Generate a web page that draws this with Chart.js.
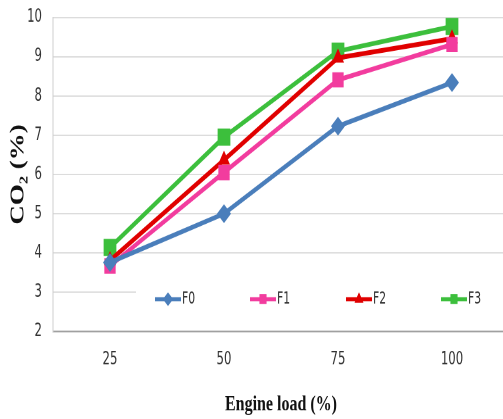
<!DOCTYPE html>
<html>
<head>
<meta charset="utf-8">
<script src="https://cdn.jsdelivr.net/npm/chart.js@4.4.0/dist/chart.umd.min.js"></script>
<style>
  html { overflow: hidden; }
  body { margin: 0; padding: 0; background: #fff; height: 419px; }
  /* the original figure is stretched vertically, so draw it short and stretch it */
  #wrap { width: 518px; height: 315px; margin-top: -8px; position: relative; transform: scaleY(1.3516); transform-origin: 0 0; }
</style>
</head>
<body>
<div id="wrap"><canvas id="co2Chart"></canvas></div>
<script>
// Engine load vs CO2 chart
const loads = ["25", "50", "75", "100"];
const seriesNames = ["F0", "F1", "F2", "F3"];
const f0 = [3.76, 5.0, 7.23, 8.34];
const f1 = [3.67, 6.05, 8.41, 9.31];
const f2 = [3.81, 6.37, 8.97, 9.46];
const f3 = [4.14, 6.95, 9.14, 9.77];
const yTicks = [2, 3, 4, 5, 6, 7, 8, 9, 10];

const colors = ['#4a7ebb', '#f23c9e', '#e00000', '#3cbf3c'];
const markers = ['rectRot', 'rect', 'triangle', 'rect'];
const radii = [7, 8, 7, 9];

const tickFont = { family: "'Liberation Sans Narrow', 'DejaVu Sans Condensed', sans-serif", size: 13 };

// legend drawn inside the plot area, like the original
const innerLegend = {
    id: 'innerLegend',
    afterDatasetsDraw(chart) {
        const ctx = chart.ctx;
        const area = chart.chartArea;
        const top = area.bottom - 36, h = 24;
        ctx.save();
        ctx.fillStyle = '#ffffff';
        ctx.fillRect(136, top, area.right - 136, h);
        const xs = [155, 250, 346, 441];
        chart.data.datasets.forEach(function(ds, i) {
            const y = top + h / 2;
            ctx.strokeStyle = ds.borderColor;
            ctx.lineWidth = 3;
            ctx.beginPath();
            ctx.moveTo(xs[i], y);
            ctx.lineTo(xs[i] + 26, y);
            ctx.stroke();
            ctx.fillStyle = ds.borderColor;
            Chart.helpers.drawPoint(ctx, { pointStyle: ds.pointStyle, radius: 5, rotation: 0, borderWidth: 0 }, xs[i] + 13, y);
            ctx.fill();
            ctx.fillStyle = '#333';
            ctx.font = "12px 'Liberation Sans Narrow', 'DejaVu Sans Condensed', sans-serif";
            ctx.textBaseline = 'middle';
            ctx.fillText(ds.label, xs[i] + 27, y);
        });
        ctx.restore();
    }
};

const allSeries = [f0, f1, f2, f3];

new Chart(document.getElementById('co2Chart').getContext('2d'), {
    type: 'line',
    data: {
        labels: loads,
        datasets: allSeries.map(function(vals, i) {
            return {
                label: seriesNames[i],
                data: vals,
                borderColor: colors[i],
                backgroundColor: colors[i],
                borderWidth: 3.5,
                pointStyle: markers[i],
                pointRadius: radii[i],
                pointBorderWidth: 0,
                tension: 0
            };
        })
    },
    options: {
        responsive: true,
        maintainAspectRatio: false,
        animation: false,
        devicePixelRatio: 2,
        layout: { padding: { top: 0, right: 0, bottom: 0, left: 11 } },
        plugins: {
            legend: { display: false },
            tooltip: { enabled: false }
        },
        scales: {
            x: {
                offset: true,
                grid: { display: false, drawTicks: false },
                border: { color: '#a0a0a0', width: 1.2 },
                ticks: { color: '#333', font: tickFont, padding: 13 },
                title: {
                    display: true,
                    text: 'Engine load (%)',
                    color: '#111',
                    font: { family: "'Liberation Serif', serif", size: 16, weight: 'bold' },
                    padding: { top: 3, bottom: 0 }
                }
            },
            y: {
                min: 2,
                max: 10,
                afterBuildTicks: function(axis) {
                    axis.ticks = yTicks.map(function(v) { return { value: v }; });
                },
                afterFit: function(axis) {
                    axis.width = 42;
                },
                grid: { color: '#dcdcdc', lineWidth: 1, drawTicks: false },
                border: { color: '#cfcfcf' },
                ticks: { color: '#333', font: tickFont, padding: 11 },
                title: {
                    display: true,
                    text: 'CO₂ (%)',
                    color: '#111',
                    font: { family: "'Liberation Serif', serif", size: 20, weight: 'bold', lineHeight: 0.75 },
                    padding: { top: 0, bottom: 0 }
                }
            }
        }
    },
    plugins: [innerLegend]
});
</script>
</body>
</html>
